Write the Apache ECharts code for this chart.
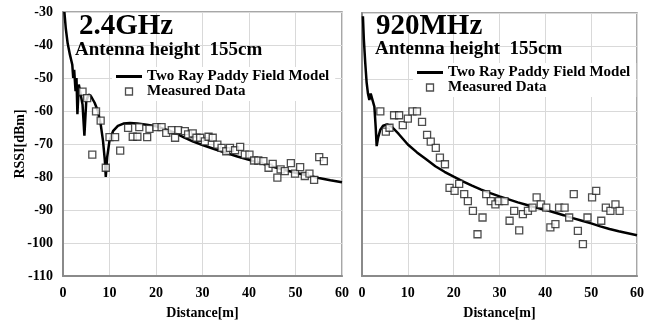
<!DOCTYPE html>
<html>
<head>
<meta charset="utf-8">
<script src="https://cdn.jsdelivr.net/npm/echarts@6/dist/echarts.min.js"></script>
<style>html,body{margin:0;padding:0;background:#fff}#c{width:661px;height:325px}</style>
</head>
<body>
<div id="c"></div>
<script>
// ---- data ----
var xTicks = [0, 10, 20, 30, 40, 50, 60];
var yTicks = [-110, -100, -90, -80, -70, -60, -50, -40, -30];
var panelTitles = ['2.4GHz', '920MHz'];
var subTitle = 'Antenna height  155cm';
var seriesNames = ['Two Ray Paddy Field Model', 'Measured Data'];

var model24 = [[0.3,-30],[0.6,-35],[1.0,-39.5],[1.5,-43],[2.0,-46],[2.2,-50],[2.4,-47.5],[2.7,-54],[2.9,-50],[3.1,-61],[3.4,-52],[3.8,-52],[4.2,-58],[4.6,-67.5],[5.0,-57],[5.5,-55],[6.0,-55.5],[6.8,-57.5],[7.5,-60],[8.1,-64],[8.6,-69],[9.0,-75],[9.2,-80],[9.5,-74],[10.0,-69],[10.8,-66],[11.8,-64.5],[13.0,-63.8],[14.4,-63.6],[16.0,-63.8],[18.0,-64.2],[20.0,-64.6],[22.0,-65.6],[24.0,-66.6],[26.0,-68],[28.0,-69.3],[30.0,-70.3],[32.5,-71.5],[35.0,-72.7],[37.5,-73.8],[40.0,-74.8],[42.5,-75.8],[45.0,-76.8],[47.5,-77.8],[50.0,-78.7],[52.5,-79.5],[55.0,-80.3],[57.5,-81.0],[60.0,-81.6]];

var measured24 = [[4.2,-54.1],[5.2,-56.1],[6.3,-73.2],[7.1,-60.1],[8.1,-62.9],[9.2,-77.2],[10.0,-67.9],[11.2,-67.9],[12.3,-72.0],[14.0,-65.1],[15.0,-67.8],[16.0,-67.8],[16.4,-64.9],[18.1,-67.9],[18.6,-65.4],[20.1,-64.9],[21.2,-64.9],[22.2,-66.6],[23.4,-65.8],[24.1,-68.1],[24.8,-65.8],[26.2,-66.1],[26.9,-67.1],[27.9,-66.8],[28.7,-68.1],[29.5,-68.1],[30.5,-69.2],[31.3,-67.8],[32.2,-68.1],[33.2,-70.2],[34.1,-71.2],[35.1,-72.2],[35.9,-71.2],[37.0,-71.9],[38.1,-70.9],[39.1,-73.2],[40.1,-73.2],[41.1,-75.0],[42.0,-75.0],[43.1,-75.2],[44.2,-77.2],[45.1,-76.0],[46.1,-80.2],[46.8,-77.7],[47.7,-78.2],[49.0,-75.8],[49.9,-79.0],[51.0,-77.0],[52.0,-79.7],[53.0,-79.0],[54.0,-80.9],[55.1,-74.0],[56.1,-75.2]];

var model920 = [[0.2,-31],[0.4,-38],[0.7,-45],[1.0,-51],[1.3,-54.5],[1.6,-56.5],[1.9,-54.5],[2.3,-54.5],[2.7,-58.5],[3.0,-65],[3.2,-70.5],[3.5,-68],[4.0,-65.5],[4.6,-64.3],[5.5,-63.9],[6.5,-64.6],[8.0,-66.8],[10.0,-70],[12.0,-72.4],[14.0,-74.5],[16.0,-76.6],[18.0,-78.3],[20.0,-79.8],[22.0,-81.2],[24.0,-82.5],[26.0,-83.7],[28.0,-84.8],[30.0,-85.8],[32.0,-86.7],[34.0,-87.6],[36.0,-88.4],[38.0,-89.2],[40.0,-89.9],[42.0,-90.7],[44.0,-91.5],[46.0,-92.4],[48.0,-93.2],[50.0,-94.0],[52.0,-94.9],[54.0,-95.7],[56.0,-96.4],[58.0,-97.0],[60.0,-97.6]];

var measured920 = [[4.0,-59.9],[5.2,-66.1],[6.0,-64.9],[7.0,-61.1],[8.1,-61.1],[8.9,-64.1],[10.0,-62.1],[11.0,-59.9],[12.0,-59.9],[13.1,-63.1],[14.2,-67.1],[15.0,-69.1],[16.1,-71.0],[17.0,-74.0],[18.1,-76.0],[19.1,-83.2],[20.2,-84.1],[21.2,-82.0],[22.3,-85.1],[23.1,-87.2],[24.2,-90.2],[25.2,-97.3],[26.3,-92.2],[27.1,-85.1],[28.1,-87.2],[29.1,-88.2],[29.9,-87.2],[31.1,-87.2],[32.2,-93.2],[33.2,-90.2],[34.3,-96.1],[35.1,-91.2],[36.2,-90.2],[37.2,-89.2],[38.1,-86.1],[39.0,-88.2],[40.2,-89.2],[41.1,-95.2],[42.2,-94.2],[43.0,-89.2],[44.2,-89.2],[45.2,-92.2],[46.2,-85.1],[47.1,-96.3],[48.2,-100.3],[49.2,-92.2],[50.2,-86.1],[51.1,-84.1],[52.2,-93.2],[53.2,-89.2],[54.2,-90.2],[55.3,-88.2],[56.2,-90.2]];

// ---- chart ----
var FONT = 'Liberation Serif';
var chart = echarts.init(document.getElementById('c'), null, {renderer: 'canvas'});
var axisColor = '#8a8a8a';
var gridColor = '#d9d9d9';
function xAxis(idx) {
  return {
    type: 'value', gridIndex: idx, min: xTicks[0], max: xTicks[xTicks.length - 1], interval: 10,
    name: 'Distance[m]', nameLocation: 'middle', nameGap: 30, nameMoveOverlap: false,
    nameTextStyle: {fontFamily: FONT, fontWeight: 'bold', fontSize: 14, color: '#000'},
    axisLine: {show: true, lineStyle: {color: axisColor, width: 2}},
    axisTick: {show: false},
    axisLabel: {fontFamily: FONT, fontWeight: 'bold', fontSize: 14, color: '#000', margin: 10},
    splitLine: {show: true, lineStyle: {color: gridColor, width: 1}}
  };
}
function yAxis(idx, showLabel) {
  return {
    type: 'value', gridIndex: idx, min: yTicks[0], max: yTicks[yTicks.length - 1], interval: 10,
    name: showLabel ? 'RSSI[dBm]' : '', nameLocation: 'middle', nameGap: 36, nameMoveOverlap: false,
    nameTextStyle: {fontFamily: FONT, fontWeight: 'bold', fontSize: 14, color: '#000'},
    axisLine: {show: true, lineStyle: {color: axisColor, width: 2}},
    axisTick: {show: false},
    axisLabel: {show: showLabel, fontFamily: FONT, fontWeight: 'bold', fontSize: 14, color: '#000', margin: 10},
    splitLine: {show: true, lineStyle: {color: gridColor, width: 1}}
  };
}
function legend(left, top) {
  return {
    orient: 'vertical', left: left, top: top, itemWidth: 26, itemHeight: 7, itemGap: 0,
    padding: [2, 6, 2, 4], backgroundColor: '#fff', symbolKeepAspect: true,
    data: [
      {name: seriesNames[0], icon: 'path://M0,0L26,0L26,3L0,3Z', itemStyle: {color: '#000', borderWidth: 0}},
      {name: seriesNames[1], icon: 'path://M0,0L10,0L10,10L0,10Z', itemStyle: {color: '#fff', borderColor: '#222', borderWidth: 1.3}}
    ],
    textStyle: {fontFamily: FONT, fontWeight: 'bold', fontSize: 15, color: '#000'}
  };
}
function lineSeries(idx, data) {
  return {type: 'line', name: seriesNames[0], xAxisIndex: idx, yAxisIndex: idx, data: data,
    symbol: 'none', lineStyle: {color: '#000', width: 2.5}, itemStyle: {color: '#000'}, z: 2};
}
function scatterSeries(idx, data) {
  return {type: 'scatter', name: seriesNames[1], xAxisIndex: idx, yAxisIndex: idx, data: data,
    symbol: 'rect', symbolSize: 7,
    itemStyle: {color: '#fff', borderColor: '#222', borderWidth: 1.3}, z: 3};
}
var titleStyle = {fontFamily: FONT, fontWeight: 'bold', fontSize: 29, color: '#000'};
var subStyle = {fontFamily: FONT, fontWeight: 'bold', fontSize: 19, color: '#000'};
chart.setOption({
  animation: false,
  backgroundColor: '#fff',
  title: [
    {text: panelTitles[0], left: 79, top: 12, padding: 0, textStyle: titleStyle},
    {text: subTitle, left: 75, top: 41, padding: 0, textStyle: subStyle},
    {text: panelTitles[1], left: 376, top: 12, padding: 0, textStyle: titleStyle},
    {text: subTitle, left: 375, top: 40, padding: 0, textStyle: subStyle}
  ],
  grid: [
    {left: 63, top: 12, width: 279, height: 265, show: true, borderColor: axisColor, borderWidth: 1.5, backgroundColor: 'transparent'},
    {left: 362, top: 13, width: 275, height: 264, show: true, borderColor: axisColor, borderWidth: 1.5, backgroundColor: 'transparent'}
  ],
  xAxis: [xAxis(0), xAxis(1)],
  yAxis: [yAxis(0, true), yAxis(1, false)],
  legend: [legend(112, 67), legend(413, 63)],
  series: [lineSeries(0, model24), scatterSeries(0, measured24), lineSeries(1, model920), scatterSeries(1, measured920)]
});
</script>
</body>
</html>
